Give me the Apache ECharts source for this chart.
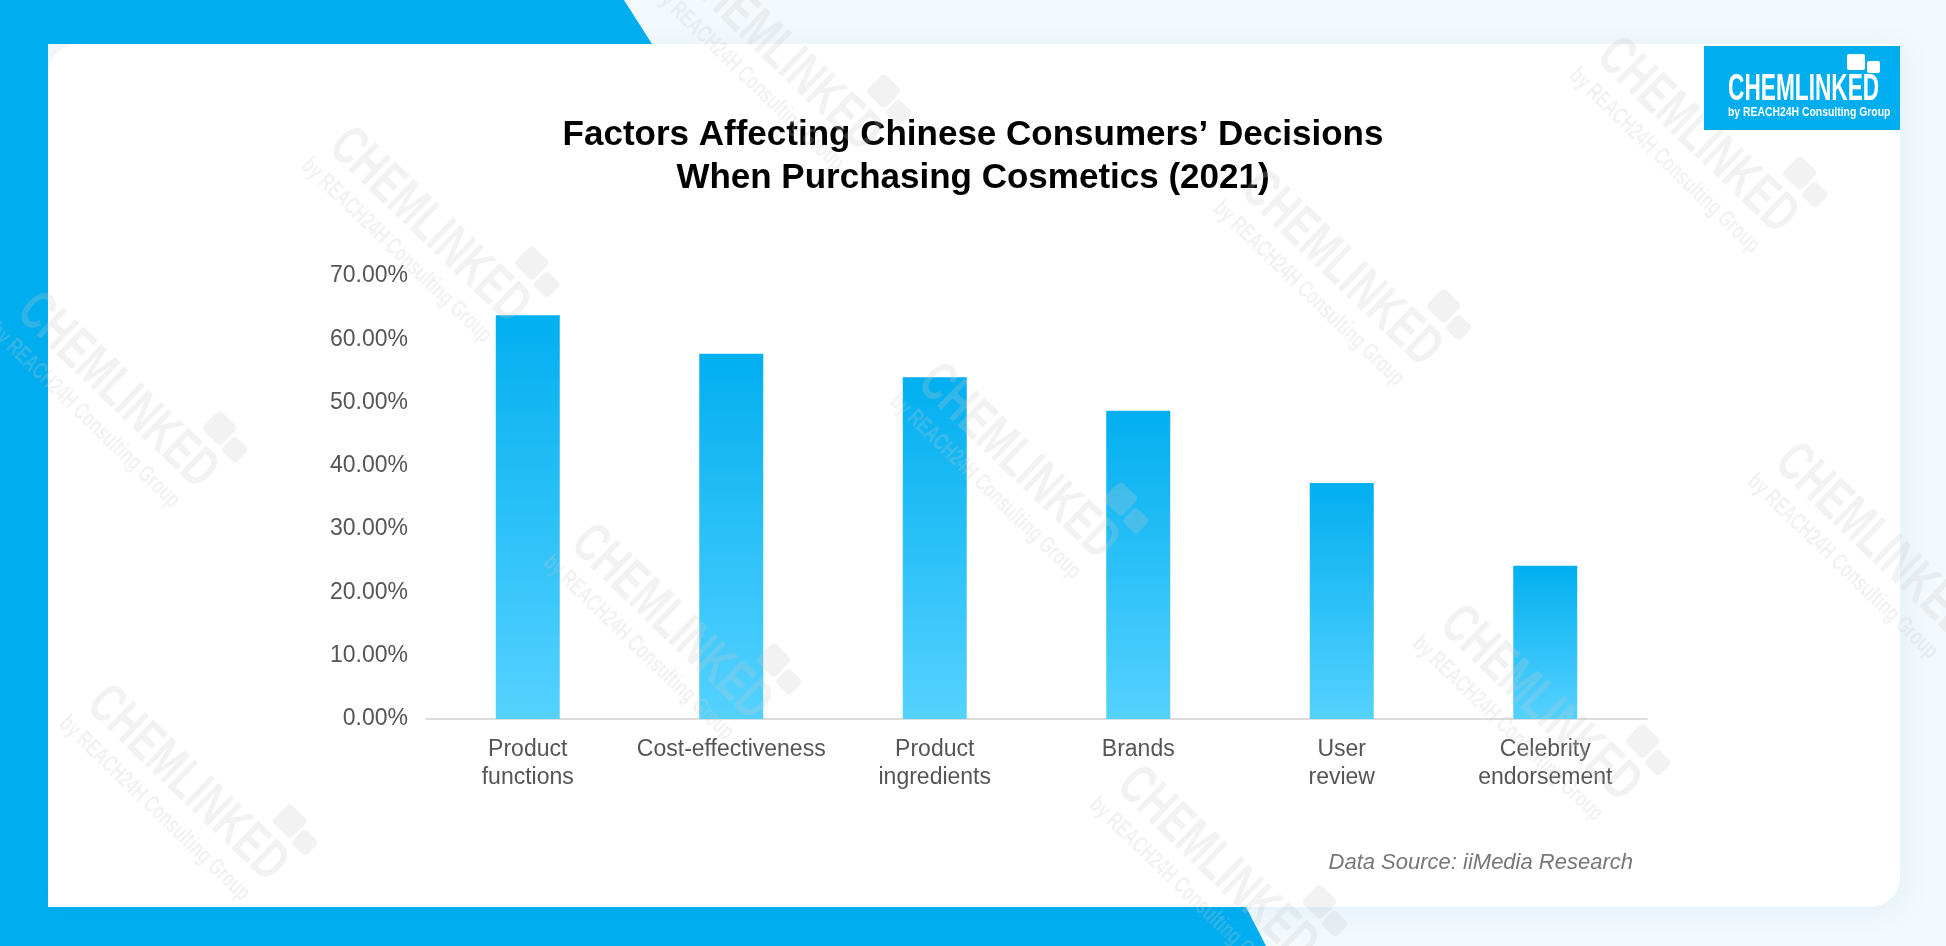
<!DOCTYPE html>
<html>
<head>
<meta charset="utf-8">
<script src="https://cdn.jsdelivr.net/npm/echarts@6/dist/echarts.min.js"></script>
<style>
  html, body { margin: 0; padding: 0; background: #f3f9fd; }
  #bar-chart { width: 1946px; height: 946px; }
</style>
</head>
<body>
<div id="bar-chart"></div>
<script>
// values
const categories = ['Product\nfunctions', 'Cost-effectiveness', 'Product\ningredients', 'Brands', 'User\nreview', 'Celebrity\nendorsement'];
const shares = [63.8, 57.7, 54.0, 48.7, 37.3, 24.2];
const yTicks = { min: 0, max: 70, step: 10 };

const blue = '#00aeef';
const sans = '"Liberation Sans", Arial, Helvetica, sans-serif';

// faint brand watermark: origin = top-left of the word, rotated down-right
const markSpots = [
  [357, 118], [1625, 28], [1269, 161], [45, 283], [946, 354], [1803, 434],
  [599, 515], [1468, 596], [115, 676], [1145, 757], [709, -54]
];
const markFill = 'rgba(200,200,200,0.24)';

function watermark(x, y) {
  return {
    type: 'group',
    x: x,
    y: y,
    rotation: -44 * Math.PI / 180,
    scaleX: 0.68,
    z: 50,
    silent: true,
    children: [
      { type: 'text', x: 0, y: 0, z: 50, style: { text: 'CHEMLINKED', fill: markFill, fontSize: 56, fontWeight: 'bold', fontFamily: sans, verticalAlign: 'top' } },
      { type: 'text', x: -10, y: 56, z: 50, style: { text: 'by REACH24H Consulting Group', fill: markFill, fontSize: 24, fontWeight: 'bold', fontFamily: sans, verticalAlign: 'top' } },
      // chat bubbles sit above the end of the word
      { type: 'rect', x: 314, y: -30, z: 50, shape: { width: 38, height: 26, r: 5 }, style: { fill: markFill } },
      { type: 'rect', x: 356, y: -22, z: 50, shape: { width: 30, height: 20, r: 5 }, style: { fill: markFill } }
    ]
  };
}

const chart = echarts.init(document.getElementById('bar-chart'));

const options = {
  backgroundColor: '#f3f9fd',
  animation: false,
  title: {
    text: 'Factors Affecting Chinese Consumers\u2019 Decisions\nWhen Purchasing Cosmetics (2021)',
    left: 'center',
    top: 109,
    textStyle: {
      fontSize: 35,
      lineHeight: 43,
      fontWeight: 'bold',
      color: '#000',
      fontFamily: sans
    }
  },
  grid: { left: 426, right: 299, top: 276, bottom: 227 },
  xAxis: {
    type: 'category',
    data: categories,
    axisLine: { lineStyle: { color: '#dcdcdc', width: 2 } },
    axisTick: { show: false },
    axisLabel: {
      color: '#555',
      fontSize: 23,
      lineHeight: 28,
      margin: 17,
      interval: 0,
      fontFamily: sans
    }
  },
  yAxis: {
    type: 'value',
    min: yTicks.min,
    max: yTicks.max,
    interval: yTicks.step,
    axisLine: { show: false },
    axisTick: { show: false },
    splitLine: { show: false },
    axisLabel: {
      color: '#555',
      fontSize: 23,
      margin: 18,
      fontFamily: sans,
      formatter: (v) => v.toFixed(2) + '%'
    }
  },
  series: [
    {
      type: 'bar',
      data: shares,
      barWidth: 64,
      itemStyle: {
        color: new echarts.graphic.LinearGradient(0, 0, 0, 1, [
          { offset: 0, color: '#02aff0' },
          { offset: 1, color: '#55d2ff' }
        ])
      }
    }
  ],
  graphic: [
    // blue frame pieces
    { type: 'rect', z: -5, silent: true, shape: { x: 0, y: 0, width: 48, height: 946 }, style: { fill: blue } },
    { type: 'polygon', z: -5, silent: true, shape: { points: [[0, 0], [624, 0], [652, 44], [0, 44]] }, style: { fill: blue } },
    { type: 'polygon', z: -5, silent: true, shape: { points: [[0, 907], [1246, 907], [1266, 946], [0, 946]] }, style: { fill: blue } },
    // white card
    {
      type: 'rect', z: -4, silent: true,
      shape: { x: 48, y: 44, width: 1852, height: 863, r: [30, 0, 30, 0] },
      style: { fill: '#fff', shadowBlur: 30, shadowColor: 'rgba(0,140,210,0.08)', shadowOffsetX: 4, shadowOffsetY: 4 }
    },
    // logo
    { type: 'rect', z: 60, silent: true, shape: { x: 1704, y: 46, width: 196, height: 84 }, style: { fill: blue } },
    { type: 'rect', z: 61, silent: true, shape: { x: 1847, y: 54, width: 18, height: 16, r: 2 }, style: { fill: '#fff' } },
    { type: 'rect', z: 61, silent: true, shape: { x: 1867, y: 61, width: 13, height: 12, r: 2 }, style: { fill: '#fff' } },
    { type: 'text', z: 61, silent: true, x: 1728, y: 90, scaleX: 0.63, style: { text: 'CHEMLINKED', fill: '#fff', fontSize: 36, fontWeight: 'bold', fontFamily: sans, verticalAlign: 'middle' } },
    { type: 'text', z: 61, silent: true, x: 1728, y: 112, scaleX: 0.8, style: { text: 'by REACH24H Consulting Group', fill: '#fff', fontSize: 13, fontWeight: 'bold', fontFamily: sans, verticalAlign: 'middle' } },
    // source note
    {
      type: 'text', z: 10, silent: true, x: 1633, y: 863,
      style: { text: 'Data Source: iiMedia Research', fill: '#777', fontSize: 22, fontStyle: 'italic', fontFamily: sans, align: 'right', verticalAlign: 'middle' }
    }
  ].concat(markSpots.map((p) => watermark(p[0], p[1])))
};

chart.setOption(options);
</script>
</body>
</html>
